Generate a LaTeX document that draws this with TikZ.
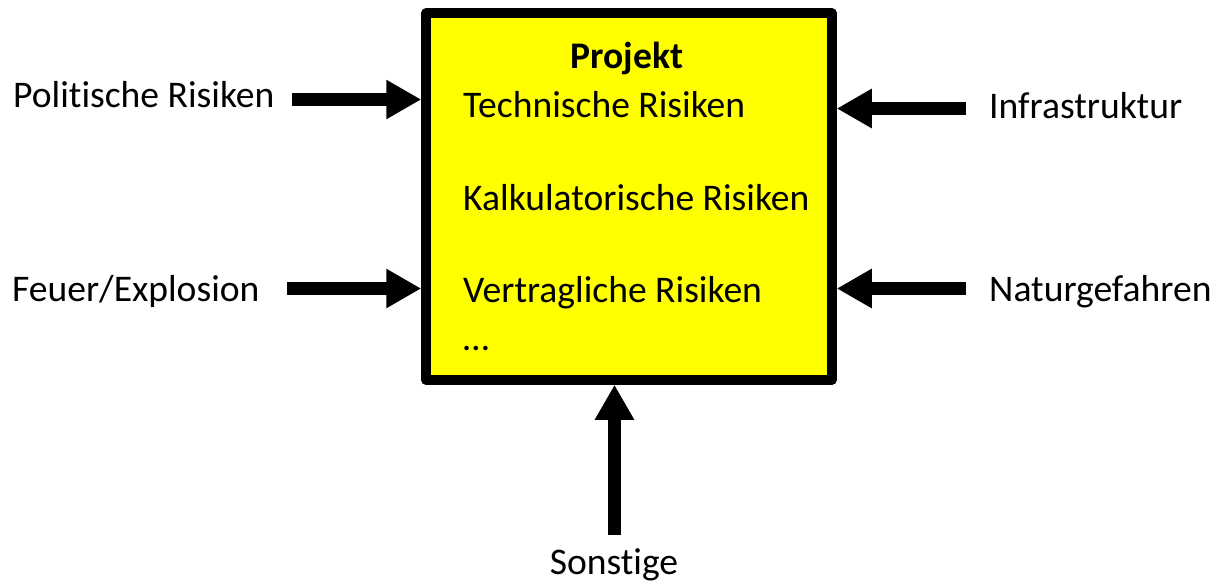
\documentclass[tikz,border=0pt]{standalone}
\usepackage{fontspec}
\setmainfont[Ligatures=NoCommon]{Carlito}
\usetikzlibrary{arrows.meta}
\definecolor{boxyellow}{RGB}{255,255,0}
\tikzset{
  txt/.style={inner sep=0pt, font=\fontsize{37.6}{44}\selectfont},
  projbox/.style={draw=black, fill=boxyellow, line width=9.5pt, line join=round,
    minimum width=406pt, minimum height=367pt, inner sep=0pt},
  bigarrow/.style={line width=13.5pt, -{Triangle[length=35pt,width=37pt]}}
}
\begin{document}
\begin{tikzpicture}[x=1pt,y=-1pt]
\useasboundingbox (0,0) rectangle (1221,584);

% central project box
\node[projbox] (box) at (629,196.5) {};

% contents of the box
\node[txt, anchor=base, font=\fontsize{37.6}{44}\selectfont\bfseries] (proj) at (627,68) {Projekt};
\node[txt, anchor=base west] (tech) at (463,117) {Technische Risiken};
\node[txt, anchor=base west] (kalk) at (463,210) {Kalkulatorische Risiken};
\node[txt, anchor=base west] (vert) at (463,302) {Vertragliche Risiken};
\node[txt, anchor=base west] (more) at (463,350) {…};

% outside risk factors
\node[txt, anchor=base west] (pol) at (13,107) {Politische Risiken};
\node[txt, anchor=base west] (feu) at (12,301) {Feuer/Explosion};
\node[txt, anchor=base west] (inf) at (989,118) {Infrastruktur};
\node[txt, anchor=base west] (nat) at (989,301) {Naturgefahren};
\node[txt, anchor=base] (son) at (614,574) {Sonstige};

% arrow starting points
\coordinate (polS) at (292,99.5);
\coordinate (feuS) at (287,288.5);
\coordinate (infS) at (966,108.5);
\coordinate (natS) at (966,288.5);
\coordinate (sonS) at (614.5,535);

% arrows into the box
\draw[bigarrow] (polS) -- (polS -| box.west);
\draw[bigarrow] (feuS) -- (feuS -| box.west);
\draw[bigarrow] (infS) -- (infS -| box.east);
\draw[bigarrow] (natS) -- (natS -| box.east);
\draw[bigarrow] (sonS) -- (sonS |- box.south);
\end{tikzpicture}
\end{document}
